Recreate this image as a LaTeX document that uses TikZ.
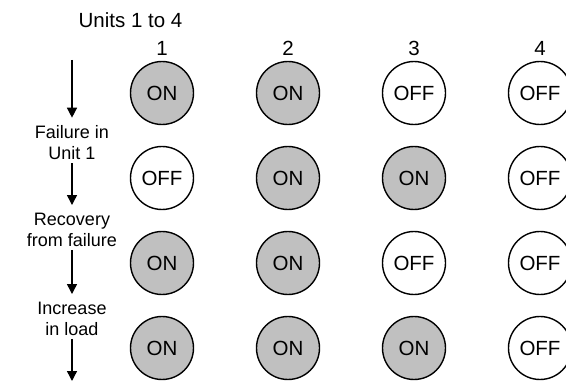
\documentclass[tikz,border=0pt]{standalone}
\usepackage{fontspec}
\setmainfont{Liberation Sans}
\usepackage{tikz}
\usetikzlibrary{arrows.meta}
\definecolor{unitgray}{RGB}{192,192,192}

\begin{document}
\begin{tikzpicture}[x=1pt, y=1pt,
    unit/.style={circle, draw, line width=1.4pt, minimum size=63pt, inner sep=0pt, font=\fontsize{20.5}{22}\selectfont},
    onunit/.style={unit, fill=unitgray},
    offunit/.style={unit, fill=white},
    step label/.style={inner sep=0pt, align=center, font=\fontsize{18}{21}\selectfont},
    flow/.style={line width=1.4pt, -{Triangle[length=10pt,width=10pt]}, shorten >=8pt, shorten <=3pt}]
    \useasboundingbox (0,0) rectangle (566,381);
    % heading and column numbers
    \node[inner sep=0pt, font=\fontsize{20.5}{22}\selectfont] (units) at (130.5,361) {Units 1 to 4};
    \node[inner sep=0pt, font=\fontsize{20.5}{22}\selectfont] (n1) at (162,332.5) {1};
    \node[inner sep=0pt, font=\fontsize{20.5}{22}\selectfont] (n2) at (288,332.5) {2};
    \node[inner sep=0pt, font=\fontsize{20.5}{22}\selectfont] (n3) at (414,332.5) {3};
    \node[inner sep=0pt, font=\fontsize{20.5}{22}\selectfont] (n4) at (540,332.5) {4};
    % start state
    \node[onunit]  (a1) at (162,288) {ON};
    \node[onunit]  (a2) at (288,288) {ON};
    \node[offunit] (a3) at (414,288) {OFF};
    \node[offunit] (a4) at (540,288) {OFF};
    % after the failure
    \node[offunit] (b1) at (162,203) {OFF};
    \node[onunit]  (b2) at (288,203) {ON};
    \node[onunit]  (b3) at (414,203) {ON};
    \node[offunit] (b4) at (540,203) {OFF};
    % after the recovery
    \node[onunit]  (c1) at (162,118) {ON};
    \node[onunit]  (c2) at (288,118) {ON};
    \node[offunit] (c3) at (414,118) {OFF};
    \node[offunit] (c4) at (540,118) {OFF};
    % after the load goes up
    \node[onunit]  (d1) at (162,33) {ON};
    \node[onunit]  (d2) at (288,33) {ON};
    \node[onunit]  (d3) at (414,33) {ON};
    \node[offunit] (d4) at (540,33) {OFF};
    % events down the left side
    \coordinate (start) at (72,324);
    \node[step label] (fail) at (72,238) {Failure in\\Unit 1};
    \node[step label] (rec)  at (72,151) {Recovery\\from failure};
    \node[step label] (load) at (72,62)  {Increase\\in load};
    \coordinate (stop) at (72,-8);
    \draw[flow] (start) -- (fail);
    \draw[flow] (fail) -- (rec);
    \draw[flow] (rec) -- (load);
    \draw[flow] (load) -- (stop);
\end{tikzpicture}
\end{document}
